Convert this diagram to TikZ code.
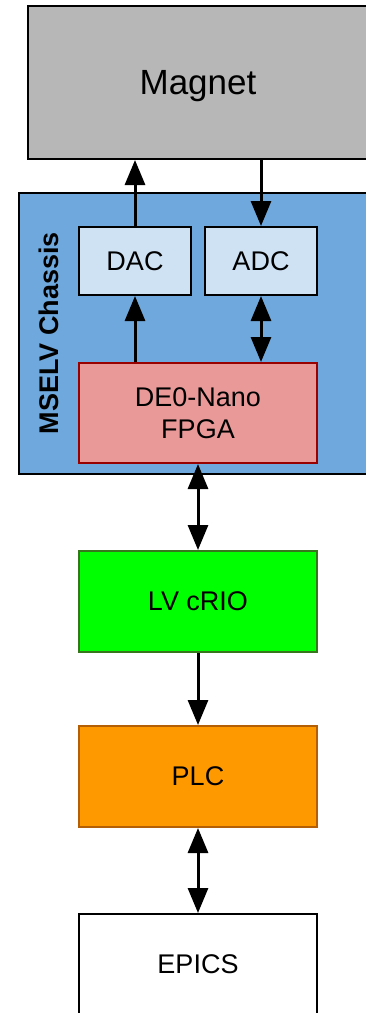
\documentclass[tikz,border=0pt]{standalone}
\usepackage{fontspec}
\setmainfont{Liberation Sans}
\usetikzlibrary{arrows.meta}
\definecolor{magnetgray}{HTML}{B7B7B7}
\definecolor{chassisblue}{HTML}{6FA8DC}
\definecolor{convblue}{HTML}{CFE2F3}
\definecolor{fpgafill}{HTML}{EA9999}
\definecolor{fpgaline}{HTML}{990000}
\definecolor{criofill}{HTML}{00FF00}
\definecolor{crioline}{HTML}{38761D}
\definecolor{plcfill}{HTML}{FF9900}
\definecolor{plcline}{HTML}{B45F06}
\tikzset{
  blk/.style={draw, line width=2pt, inner sep=0pt, align=center,
    font=\fontsize{27}{32}\selectfont},
  conn/.style={line width=3pt, -{Triangle[length=25pt,width=20pt]}},
  bconn/.style={line width=3pt, {Triangle[length=25pt,width=20pt]}-{Triangle[length=25pt,width=20pt]}},
}
\begin{document}
\begin{tikzpicture}[x=1pt,y=-1pt]
\useasboundingbox (0,0) rectangle (365,1013);
\node[blk, fill=magnetgray, minimum width=340pt, minimum height=153pt, text depth=0pt,
  font=\fontsize{35}{40}\selectfont] (magnet) at (198,82.5) {Magnet};
\node[blk, fill=chassisblue, minimum width=353pt, minimum height=281pt] (chassis) at (195.5,333.5) {};
\node[rotate=90, font=\fontsize{27}{32}\selectfont\bfseries] (label) at (49,333) {MSELV Chassis};
\node[blk, fill=convblue, minimum width=112pt, minimum height=68pt] (dac) at (135,261) {DAC};
\node[blk, fill=convblue, minimum width=112pt, minimum height=68pt] (adc) at (261,261) {ADC};
\node[blk, fill=fpgafill, draw=fpgaline, minimum width=238pt, minimum height=100pt] (fpga) at (198,413) {DE0-Nano\\FPGA};
\node[blk, fill=criofill, draw=crioline, minimum width=238pt, minimum height=101pt] (crio) at (198,601.5) {LV cRIO};
\node[blk, fill=plcfill, draw=plcline, minimum width=238pt, minimum height=101pt] (plc) at (198,776.5) {PLC};
\node[blk, fill=white, minimum width=238pt, minimum height=100pt] (epics) at (198,964) {EPICS};
\draw[conn] (dac.north) -- (dac.north |- magnet.south);
\draw[conn] (magnet.south -| adc.north) -- (adc.north);
\draw[conn] (dac.south |- fpga.north) -- (dac.south);
\draw[bconn] (adc.south) -- (adc.south |- fpga.north);
\draw[bconn] (fpga.south) -- (crio.north);
\draw[conn] (crio.south) -- (plc.north);
\draw[bconn] (plc.south) -- (epics.north);
\end{tikzpicture}
\end{document}
